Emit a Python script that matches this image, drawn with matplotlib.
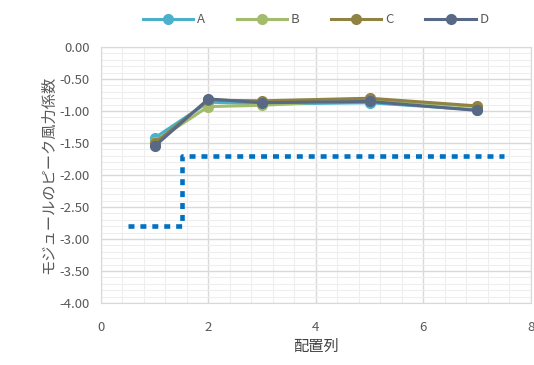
import matplotlib
matplotlib.use("Agg")
import matplotlib.pyplot as plt
from matplotlib.ticker import MultipleLocator

plt.rcParams['font.family'] = ['Noto Sans CJK JP', 'DejaVu Sans']

# column positions and peak wind force coefficients per series
cols = [1, 2, 3, 5, 7]
series = {
    'A': [-1.42, -0.86, -0.89, -0.87, -0.98],
    'B': [-1.48, -0.93, -0.91, -0.82, -0.93],
    'C': [-1.50, -0.83, -0.84, -0.80, -0.92],
    'D': [-1.55, -0.81, -0.87, -0.85, -0.99],
}
colors = {'A': '#4BB0CC', 'B': '#A2BC6C', 'C': '#8F8242', 'D': '#586985'}

# design value (step line)
limit_x = [0.5, 1.5, 1.5, 7.5]
limit_y = [-2.8, -2.8, -1.7, -1.7]

fig = plt.figure(figsize=(5.34, 3.65), dpi=100)
ax = fig.add_axes([0.189, 0.170, 0.805, 0.701])

for name, vals in series.items():
    ax.plot(cols, vals, color=colors[name], lw=2.2, marker='o', ms=7,
            label=name, zorder=3)

ax.plot(limit_x, limit_y, color='#0070C0', lw=3.3, linestyle=(0, (1.3, 1.3)),
        dash_capstyle='butt', zorder=2)

ax.set_xlim(0, 8)
ax.set_ylim(-4, 0)
ax.xaxis.set_major_locator(MultipleLocator(2))
ax.xaxis.set_minor_locator(MultipleLocator(0.4))
ax.yaxis.set_major_locator(MultipleLocator(0.5))
ax.yaxis.set_minor_locator(MultipleLocator(0.1))
ax.yaxis.set_major_formatter(lambda v, p: f"{v:.2f}")

ax.grid(which='major', color='#D9D9D9', lw=1.0)
ax.grid(which='minor', color='#EEEEEE', lw=0.8)
ax.set_axisbelow(True)
for s in ax.spines.values():
    s.set_color('#D9D9D9')
ax.tick_params(which='both', length=0, colors='#595959', labelsize=9.5)
ax.tick_params(axis='x', pad=13)
ax.tick_params(axis='y', pad=8)

ax.set_xlabel('配置列', color='#404040', fontsize=11, labelpad=3)
ax.set_ylabel('モジュールのピーク風力係数', color='#595959', fontsize=11, labelpad=2)

ax.legend(loc='lower center', bbox_to_anchor=(0.5, 1.04), ncol=4, frameon=False,
          fontsize=9.5, labelcolor='#595959', handlelength=3.8,
          columnspacing=2.4, handletextpad=0.3, borderaxespad=0.4)

fig.savefig('out.png', dpi=100)
